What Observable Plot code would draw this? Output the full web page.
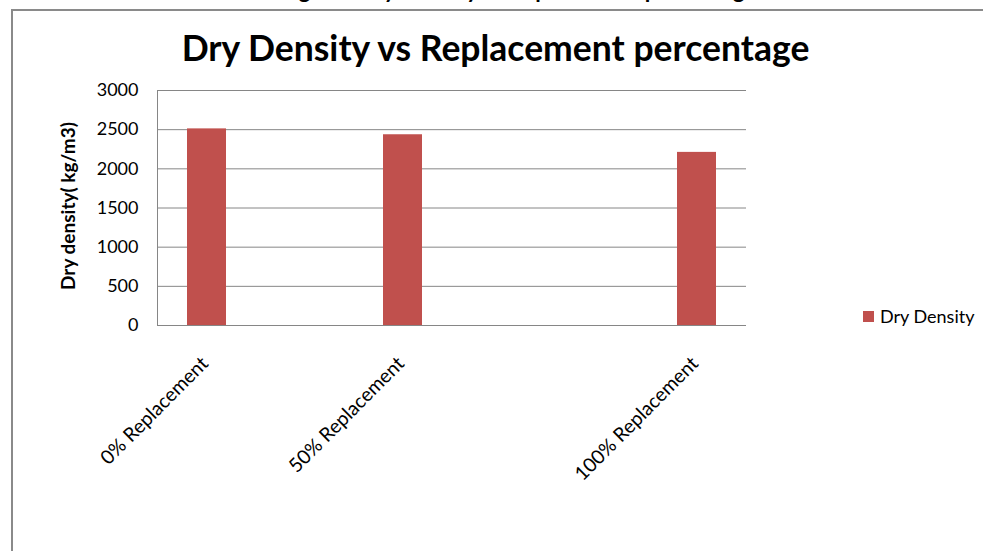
<!DOCTYPE html>
<html>
<head>
<meta charset="utf-8">
<script src="https://cdn.jsdelivr.net/npm/d3@7"></script>
<script src="https://cdn.jsdelivr.net/npm/@observablehq/plot@0.6"></script>
<style>
html, body { margin: 0; padding: 0; background: #fff; overflow: hidden; }
#page { position: relative; width: 983px; height: 551px; overflow: hidden; font-family: Lato, "Open Sans", sans-serif; color: #000; }
#frame { position: absolute; left: 11px; top: 9px; width: 1000px; height: 600px; border: 2px solid #8a8a8a; box-sizing: border-box; }
#caption { position: absolute; top: -24px; left: 280px; font-weight: bold; font-size: 22.5px; white-space: nowrap; line-height: normal; }
#title { position: absolute; top: 26px; left: 0; width: 991px; text-align: center; font-weight: bold; font-size: 35.5px; line-height: normal; white-space: nowrap; }
#legend { position: absolute; left: 863px; top: 305px; font-size: 18px; display: flex; align-items: center; line-height: normal; white-space: nowrap; }
#legend .sw { width: 11px; height: 11px; background: #C0504D; margin-right: 6px; }
#chart { position: absolute; left: 0; top: 0; }
</style>
</head>
<body>
<div id="page">
  <div id="frame"></div>
  <div id="caption"></div>
  <div id="title"></div>
  <div id="chart"></div>
  <div id="legend"><span class="sw"></span><span id="legendText"></span></div>
</div>
<script>
const captionText = "Fig 4.2: Dry Density vs Replacement percentage";
const titleText = "Dry Density vs Replacement percentage";
const yLabel = "Dry density( kg/m3)";
const seriesName = "Dry Density";
const categories = ["0% Replacement", "", "50% Replacement", "", "", "100% Replacement"];
const dryDensity = [2510, null, 2435, null, null, 2210];
const yTicks = [0, 500, 1000, 1500, 2000, 2500, 3000];
const barColor = "#C0504D";

document.getElementById("caption").textContent = captionText;
document.getElementById("title").textContent = titleText;
document.getElementById("legendText").textContent = seriesName;

const slots = d3.range(categories.length);
const table = slots.map(i => ({slot: i, label: categories[i], value: dryDensity[i]}));

const chart = Plot.plot({
  width: 983,
  height: 551,
  marginLeft: 157,
  marginRight: 237,
  marginTop: 90,
  marginBottom: 226,
  style: {fontFamily: "Lato, 'Open Sans', sans-serif", fontSize: "18px", color: "#000", background: "transparent", overflow: "visible"},
  x: {type: "band", domain: slots, paddingInner: 0.6, paddingOuter: 0.3, axis: null},
  y: {domain: [0, 3000], axis: null},
  marks: [
    Plot.gridY(yTicks, {stroke: "#868686", strokeOpacity: 1, strokeWidth: 1}),
    Plot.frame({anchor: "left", stroke: "#868686", strokeWidth: 1}),
    Plot.barY(table.filter(d => d.value != null), {x: "slot", y: "value", fill: barColor}),
    Plot.axisY(yTicks, {tickSize: 0, tickPadding: 19, fontSize: 18, label: null, tickFormat: d => String(d)}),
    Plot.text(table.filter(d => d.label), {x: "slot", y: () => 0, text: "label", rotate: -45, textAnchor: "end", dx: -2, dy: 35, fontSize: 19.5}),
    Plot.text([yLabel], {frameAnchor: "left", textAnchor: "middle", rotate: -90, dx: -89, dy: -2, fontWeight: "bold", fontSize: 19})
  ]
});
document.getElementById("chart").appendChild(chart);
</script>
</body>
</html>
